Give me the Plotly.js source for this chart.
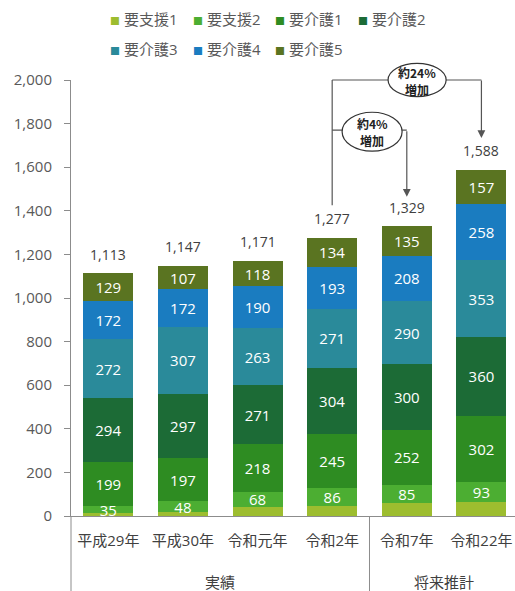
<!DOCTYPE html>
<html><head><meta charset="utf-8">
<script src="https://cdn.plot.ly/plotly-3.0.1.min.js"></script>
<style>html,body{margin:0;padding:0;background:#fff}</style>
</head><body><div id="chart" style="width:515px;height:591px"></div>
<script>
const categories = ['平成29年','平成30年','令和元年','令和2年','令和7年','令和22年'];
const seriesNames = ['要支援1','要支援2','要介護1','要介護2','要介護3','要介護4','要介護5'];
const shien1 = [12, 19, 43, 44, 59, 65];
const shien2 = [35, 48, 68, 86, 85, 93];
const kaigo1 = [199, 197, 218, 245, 252, 302];
const kaigo2 = [294, 297, 271, 304, 300, 360];
const kaigo3 = [272, 307, 263, 271, 290, 353];
const kaigo4 = [172, 172, 190, 193, 208, 258];
const kaigo5 = [129, 107, 118, 134, 135, 157];
const totals = [1113, 1147, 1171, 1277, 1329, 1588];
const groupLabels = ['実績', '将来推計'];
const growthLines = [['約4%', '増加'], ['約24%', '増加']];

const seriesValues = [shien1, shien2, kaigo1, kaigo2, kaigo3, kaigo4, kaigo5];
const colors = ['#9dbd2f', '#4cae32', '#2e8c22', '#1c6b36', '#2a8a9a', '#1a7cc0', '#5a7421'];
const FONT = "'Open Sans', 'Noto Sans CJK JP', sans-serif";
const GRAY = '#595959';
const LINE = '#8c8c8c';

// plot area geometry (pixels) for converting legend placement to paper coords
const PL = 71, PW = 444, PB = 516, PH = 436;
const px2paperX = px => (px - PL) / PW;
const py2paperY = py => (PB - py) / PH;

const traces = seriesValues.map((vals, k) => ({
  type: 'bar',
  name: seriesNames[k],
  x: categories,
  y: vals,
  marker: {color: colors[k], line: {width: 0}},
  text: k === 0 ? vals.map(() => '') : vals.map(v => String(v)),
  textposition: 'inside',
  insidetextanchor: 'middle',
  textangle: 0,
  constraintext: 'none',
  textfont: {family: FONT, size: 15, color: '#ffffff'},
  showlegend: false,
  hoverinfo: 'x+y+name'
}));

const annotations = [];
// totals above bars
categories.forEach((c, i) => {
  annotations.push({
    x: c, y: totals[i], xref: 'x', yref: 'y', yshift: 19,
    text: totals[i].toLocaleString('en-US'), showarrow: false,
    font: {family: FONT, size: 14, color: '#404040'}
  });
});
// legend (two rows: 4 + 3 entries)
seriesNames.forEach((n, k) => {
  const row = k < 4 ? 0 : 1;
  const col = k < 4 ? k : k - 4;
  annotations.push({
    xref: 'paper', yref: 'paper', x: px2paperX(108 + col * 82.5), y: py2paperY(row === 0 ? 19 : 49),
    xanchor: 'left', yanchor: 'middle', showarrow: false,
    text: `<span style="color:${colors[k]};font-size:10px">■</span> ${n}`,
    font: {family: FONT, size: 15, color: GRAY}
  });
});
// group labels
groupLabels.forEach((g, j) => {
  annotations.push({x: j === 0 ? 1.5 : 4.5, xref: 'x', y: -0.151, yref: 'paper', yanchor: 'middle',
    text: g, showarrow: false, font: {family: FONT, size: 15, color: '#404040'}});
});
// arrows
annotations.push({x: 4, xref: 'x', y: 0.732, yref: 'paper', ax: 0, ay: -67, axref: 'pixel', ayref: 'pixel',
  showarrow: true, arrowhead: 2, arrowsize: 1.3, arrowwidth: 1.2, arrowcolor: '#555', text: ''});
annotations.push({x: 5, xref: 'x', y: 0.867, yref: 'paper', ax: 0, ay: -59, axref: 'pixel', ayref: 'pixel',
  showarrow: true, arrowhead: 2, arrowsize: 1.3, arrowwidth: 1.2, arrowcolor: '#555', text: ''});
// ellipse texts (one annotation per line)
const ELL_FONT = {family: "'Noto Sans CJK JP', sans-serif", size: 12, color: '#222', weight: 'bold'};
const ellCenters = [{x: 3.535, y: 0.882}, {x: 4.138, y: 1.0}];
growthLines.forEach((lines, j) => {
  lines.forEach((t, li) => {
    annotations.push({x: ellCenters[j].x, xref: 'x', y: ellCenters[j].y, yref: 'paper',
      xanchor: 'center', yanchor: 'middle', yshift: li === 0 ? 8 : -9, borderpad: 0,
      text: t, showarrow: false, font: ELL_FONT});
  });
});

const shapes = [
  // extended y axis line and separator
  {type: 'line', xref: 'paper', x0: 0, x1: 0, yref: 'paper', y0: 0, y1: -0.175, line: {color: LINE, width: 1}},
  {type: 'line', xref: 'x', x0: 3.5, x1: 3.5, yref: 'paper', y0: 0, y1: -0.175, line: {color: LINE, width: 1}},
  // connector lines
  {type: 'line', xref: 'x', x0: 3, x1: 3, yref: 'paper', y0: 0.713, y1: 1.0, line: {color: '#555', width: 1.2}},
  {type: 'line', xref: 'x', x0: 3, x1: 5, yref: 'paper', y0: 1.0, y1: 1.0, line: {color: '#555', width: 1.2}},
  {type: 'line', xref: 'x', x0: 3, x1: 4, yref: 'paper', y0: 0.885, y1: 0.885, line: {color: '#555', width: 1.2}},
  // ellipses
  {type: 'circle', xref: 'x', x0: 3.133, x1: 3.937, yref: 'paper', y0: 0.837, y1: 0.926,
    fillcolor: '#ffffff', line: {color: '#333', width: 1.2}},
  {type: 'circle', xref: 'x', x0: 3.749, x1: 4.527, yref: 'paper', y0: 0.962, y1: 1.038,
    fillcolor: '#ffffff', line: {color: '#333', width: 1.2}}
];

const layout = {
  width: 515, height: 591,
  margin: {l: PL, r: 0, t: 80, b: 75},
  paper_bgcolor: '#ffffff', plot_bgcolor: '#ffffff',
  barmode: 'stack', bargap: 0.33,
  font: {family: FONT, color: GRAY},
  showlegend: false,
  xaxis: {
    type: 'category', range: [-0.5, 5.45], showline: true, linecolor: LINE, linewidth: 1,
    ticks: '', tickfont: {family: FONT, size: 15, color: '#404040'}, ticklabelstandoff: 11,
    showgrid: false, zeroline: false, fixedrange: true
  },
  yaxis: {
    range: [0, 2000], dtick: 200, tickformat: ',', showline: true, linecolor: LINE, linewidth: 1,
    ticks: 'outside', ticklen: 6, tickcolor: LINE, tickfont: {family: FONT, size: 15, color: GRAY},
    ticklabelstandoff: 9, showgrid: false, zeroline: false, fixedrange: true
  },
  annotations: annotations,
  shapes: shapes
};

Plotly.newPlot('chart', traces, layout, {displayModeBar: false, staticPlot: true});
</script></body></html>
